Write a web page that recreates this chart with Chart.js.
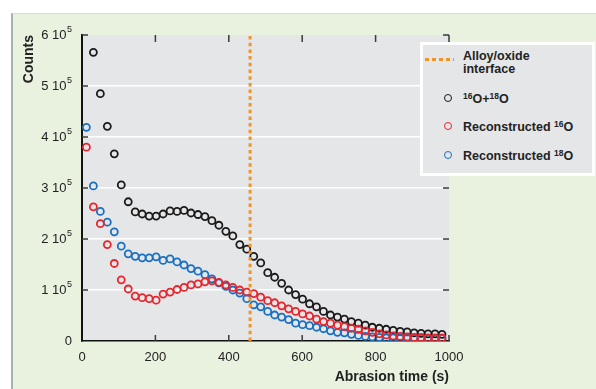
<!DOCTYPE html>
<html>
<head>
<meta charset="utf-8">
<script src="https://cdn.jsdelivr.net/npm/chart.js@4.4.0/dist/chart.umd.min.js"></script>
<style>
html, body { margin: 0; padding: 0; background: #fff; }
#wrap { position: relative; width: 596px; height: 389px; overflow: hidden; font-family: "Liberation Sans", Arial, sans-serif; }
#panel { position: absolute; left: 11px; top: 13px; right: 0; bottom: 0; background: #e9f2de; border-left: 2px solid #a7b0b2; border-top: 1px solid #d3dccf; }
#c { position: absolute; left: 0; top: 0; }
#legend { position: absolute; left: 420px; top: 42px; width: 169px; height: 128px; background: #e5e6e8; border: 3px solid #fff; font-weight: bold; font-size: 12.5px; color: #222; }
#legend .t { position: absolute; left: 40px; line-height: 13px; white-space: nowrap; }
#legend .dot { position: absolute; left: 21px; width: 6px; height: 6px; border-radius: 50%; border: 1.8px solid; }
#legend sup { font-size: 8.5px; vertical-align: 4px; line-height: 0; }
#legend .dash { position: absolute; left: 2px; top: 13px; width: 29px; height: 3px;
  background: repeating-linear-gradient(90deg, #f39325 0 4.5px, transparent 4.5px 7px); }
</style>
</head>
<body>
<div id="wrap">
  <div id="panel"></div>
  <canvas id="c" width="596" height="389"></canvas>
  <div id="legend">
    <div class="dash"></div>
    <div class="t" style="top:5px">Alloy/oxide<br>interface</div>
    <div class="dot" style="top:49px;border-color:#1a1a1a"></div>
    <div class="t" style="top:48px"><sup>16</sup>O+<sup>18</sup>O</div>
    <div class="dot" style="top:77px;border-color:#e8242c"></div>
    <div class="t" style="top:76px">Reconstructed <sup>16</sup>O</div>
    <div class="dot" style="top:106px;border-color:#1a70c0"></div>
    <div class="t" style="top:105px">Reconstructed <sup>18</sup>O</div>
  </div>
</div>
<script>
// abrasion time (s) of each measurement
const times = [12,31,50,69,88,107,126,145,164,183,202,221,240,259,278,297,316,335,354,373,392,411,430,449,468,487,506,525,544,563,582,601,620,639,658,677,696,715,734,753,772,791,810,829,848,867,886,905,924,943,962,981];

// counts, in units of 10^5
const total = [null,5.66,4.85,4.21,3.67,3.06,2.73,2.53,2.49,2.45,2.45,
  2.49,2.55,2.54,2.56,2.51,2.48,2.44,2.36,2.27,2.15,
  2.06,1.89,1.80,1.66,1.53,1.34,1.25,1.13,1.00,0.91,
  0.82,0.73,0.67,0.58,0.51,0.47,0.43,0.38,0.35,0.31,
  0.27,0.25,0.23,0.21,0.19,0.18,0.16,0.15,0.14,0.14,0.13];
const recon16 = [3.80,2.63,2.30,1.89,1.52,1.20,1.02,0.88,0.85,0.83,0.80,
  0.92,0.96,1.01,1.05,1.10,1.12,1.16,1.18,1.15,1.10,
  1.05,1.00,0.96,0.93,0.86,0.79,0.75,0.69,0.63,0.58,
  0.53,0.49,0.43,0.38,0.35,0.31,0.28,0.25,0.23,0.20,
  0.17,0.14,0.12,0.10,0.09,0.08,0.07,0.07,0.06,0.06,0.06];
const recon18 = [4.19,3.04,2.54,2.33,2.14,1.86,1.71,1.66,1.63,1.63,1.65,
  1.58,1.61,1.55,1.49,1.42,1.37,1.30,1.22,1.14,1.07,
  1.00,0.94,0.83,0.71,0.67,0.58,0.51,0.47,0.42,0.35,
  0.32,0.30,0.27,0.24,0.20,0.17,0.16,0.13,0.11,0.09,
  0.08,0.07,0.06,0.06,0.05,0.05,0.05,0.05,0.05,0.05,0.05];

const interfaceTime = [458];
const xTicks = [0,200,400,600,800,1000];
const yTicks = [0,1,2,3,4,5,6];

function pts(ys) {
  return times.map((t, i) => ({x: t, y: ys[i]}));
}

const plotBg = {
  id: 'plotBg',
  beforeDraw(chart) {
    const {ctx, chartArea: a} = chart;
    ctx.save();
    ctx.fillStyle = '#e5e6e8';
    ctx.fillRect(a.left, a.top, a.right - a.left, a.bottom - a.top);
    ctx.restore();
  }
};

// small tick marks pointing into the plot, on all four sides
const innerTicks = {
  id: 'innerTicks',
  afterDraw(chart) {
    const {ctx, chartArea: a, scales: {x, y}} = chart;
    ctx.save();
    ctx.strokeStyle = '#3a3a3a';
    ctx.lineWidth = 1.5;
    ctx.beginPath();
    yTicks.slice(1).forEach(v => {
      const p = y.getPixelForValue(v);
      ctx.moveTo(a.left, p); ctx.lineTo(a.left + 6, p);
      ctx.moveTo(a.right, p); ctx.lineTo(a.right - 6, p);
    });
    xTicks.slice(1).forEach(v => {
      const p = x.getPixelForValue(v);
      ctx.moveTo(p, a.bottom); ctx.lineTo(p, a.bottom - 6);
      ctx.moveTo(p, a.top); ctx.lineTo(p, a.top + 7);
    });
    ctx.stroke();
    ctx.restore();
  }
};

// y tick labels written as "n 10^5" with a real superscript
const yLabels = {
  id: 'yLabels',
  afterDraw(chart) {
    const {ctx, chartArea: a, scales: {y}} = chart;
    const right = a.left - 10;
    ctx.save();
    ctx.fillStyle = '#222';
    ctx.textAlign = 'right';
    ctx.textBaseline = 'middle';
    yTicks.forEach(v => {
      const p = y.getPixelForValue(v);
      ctx.font = '13px "Liberation Sans"';
      if (v === 0) { ctx.fillText('0', right, p); return; }
      ctx.font = '9px "Liberation Sans"';
      const sw = ctx.measureText('5').width;
      ctx.fillText('5', right, p - 5);
      ctx.font = '13px "Liberation Sans"';
      ctx.fillText(v + ' 10', right - sw - 0.5, p);
    });
    ctx.restore();
  }
};

const circle = (color) => ({
  pointStyle: 'circle', pointRadius: 3.5, pointHoverRadius: 3.5,
  pointBorderWidth: 1.8, borderColor: color, backgroundColor: 'rgba(0,0,0,0)', showLine: false
});

new Chart(document.getElementById('c'), {
  type: 'scatter',
  data: {
    datasets: [
      {
        type: 'line', label: 'Alloy/oxide interface',
        data: [{x: interfaceTime[0], y: yTicks[0]}, {x: interfaceTime[0], y: yTicks[yTicks.length - 1]}],
        borderColor: '#f39325', borderWidth: 3, borderDash: [3.5, 3.2], pointRadius: 0, fill: false
      },
      Object.assign({label: 'Reconstructed 16O', data: pts(recon16)}, circle('#e8242c')),
      Object.assign({label: 'Reconstructed 18O', data: pts(recon18)}, circle('#1a70c0')),
      Object.assign({label: '16O+18O', data: pts(total)}, circle('#1a1a1a'))
    ]
  },
  options: {
    responsive: false,
    animation: false,
    devicePixelRatio: 1,
    layout: {padding: {left: 0, right: 147, top: 35, bottom: 0}},
    plugins: {legend: {display: false}, tooltip: {enabled: false}},
    scales: {
      x: {
        type: 'linear', min: 0, max: 1000,
        afterFit(s) { s.height = 48; },
        ticks: {stepSize: 200, padding: 9, color: '#222', font: {family: 'Liberation Sans', size: 13},
          callback: v => String(v)},
        grid: {display: false, drawTicks: false},
        border: {display: true, color: '#111', width: 1.5},
        title: {display: true, text: 'Abrasion time (s)', align: 'end', color: '#222',
          font: {family: 'Liberation Sans', size: 14, weight: 'bold'}, padding: {top: 0, bottom: 3}}
      },
      y: {
        type: 'linear', min: 0, max: 6,
        afterFit(s) { s.width = 82; },
        ticks: {stepSize: 1, display: false},
        grid: {drawTicks: false, lineWidth: 1.5,
          color: c => (c.tick && (c.tick.value === 0 || c.tick.value === 6)) ? 'rgba(0,0,0,0)' : '#ffffff'},
        border: {display: true, color: '#111', width: 2},
        title: {display: true, text: 'Counts', align: 'end', color: '#222',
          font: {family: 'Liberation Sans', size: 14, weight: 'bold'}, padding: {top: 21, bottom: 0}}
      }
    }
  },
  plugins: [plotBg, innerTicks, yLabels]
});
</script>
</body>
</html>
